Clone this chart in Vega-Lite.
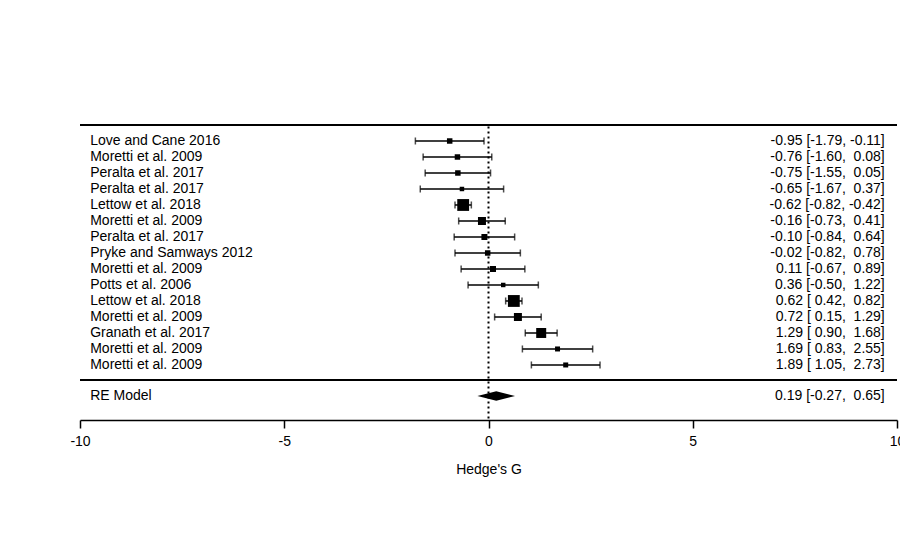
{
  "$schema": "https://vega.github.io/schema/vega-lite/v6.json",
  "autosize": "none",
  "width": 817,
  "height": 295,
  "padding": {"left": 80, "top": 125, "right": 3, "bottom": 116},
  "background": "white",
  "config": {"view": {"stroke": null}, "font": "Liberation Sans"},
  "datasets": {
    "studies": [
      {"k": 1, "study": "Love and Cane 2016", "est": -0.95, "lo": -1.79, "hi": -0.11, "w": 30, "ci": "-0.95 [-1.79, -0.11]"},
      {"k": 2, "study": "Moretti et al. 2009", "est": -0.76, "lo": -1.60, "hi": 0.08, "w": 30, "ci": "-0.76 [-1.60, \u00a00.08]"},
      {"k": 3, "study": "Peralta et al. 2017", "est": -0.75, "lo": -1.55, "hi": 0.05, "w": 30, "ci": "-0.75 [-1.55, \u00a00.05]"},
      {"k": 4, "study": "Peralta et al. 2017", "est": -0.65, "lo": -1.67, "hi": 0.37, "w": 20, "ci": "-0.65 [-1.67, \u00a00.37]"},
      {"k": 5, "study": "Lettow et al. 2018", "est": -0.62, "lo": -0.82, "hi": -0.42, "w": 140, "ci": "-0.62 [-0.82, -0.42]"},
      {"k": 6, "study": "Moretti et al. 2009", "est": -0.16, "lo": -0.73, "hi": 0.41, "w": 64, "ci": "-0.16 [-0.73, \u00a00.41]"},
      {"k": 7, "study": "Peralta et al. 2017", "est": -0.10, "lo": -0.84, "hi": 0.64, "w": 36, "ci": "-0.10 [-0.84, \u00a00.64]"},
      {"k": 8, "study": "Pryke and Samways 2012", "est": -0.02, "lo": -0.82, "hi": 0.78, "w": 30, "ci": "-0.02 [-0.82, \u00a00.78]"},
      {"k": 9, "study": "Moretti et al. 2009", "est": 0.11, "lo": -0.67, "hi": 0.89, "w": 36, "ci": "0.11 [-0.67, \u00a00.89]"},
      {"k": 10, "study": "Potts et al. 2006", "est": 0.36, "lo": -0.50, "hi": 1.22, "w": 20, "ci": "0.36 [-0.50, \u00a01.22]"},
      {"k": 11, "study": "Lettow et al. 2018", "est": 0.62, "lo": 0.42, "hi": 0.82, "w": 140, "ci": "0.62 [\u00a00.42, \u00a00.82]"},
      {"k": 12, "study": "Moretti et al. 2009", "est": 0.72, "lo": 0.15, "hi": 1.29, "w": 64, "ci": "0.72 [\u00a00.15, \u00a01.29]"},
      {"k": 13, "study": "Granath et al. 2017", "est": 1.29, "lo": 0.90, "hi": 1.68, "w": 100, "ci": "1.29 [\u00a00.90, \u00a01.68]"},
      {"k": 14, "study": "Moretti et al. 2009", "est": 1.69, "lo": 0.83, "hi": 2.55, "w": 25, "ci": "1.69 [\u00a00.83, \u00a02.55]"},
      {"k": 15, "study": "Moretti et al. 2009", "est": 1.89, "lo": 1.05, "hi": 2.73, "w": 25, "ci": "1.89 [\u00a01.05, \u00a02.73]"}
    ],
    "model": [
      {"k": 16.94, "study": "RE Model", "est": 0.19, "lo": -0.27, "hi": 0.65, "ci": "0.19 [-0.27, \u00a00.65]"}
    ]
  },
  "layer": [
    {
      "data": {"values": [{"y": 0}, {"y": 15.94}]},
      "mark": {"type": "rule", "color": "black", "strokeWidth": 2},
      "encoding": {"y": {"field": "y", "type": "quantitative", "scale": {"domain": [0, 18.44], "reverse": true, "nice": false, "zero": false}, "axis": null}}
    },
    {
      "data": {"values": [{"a": 0.1, "b": 18.44}]},
      "mark": {"type": "rule", "color": "black", "strokeWidth": 2, "strokeDash": [2, 3]},
      "encoding": {
        "x": {"datum": 0, "type": "quantitative"},
        "y": {"field": "a", "type": "quantitative"},
        "y2": {"field": "b"}
      }
    },
    {
      "data": {"name": "studies"},
      "layer": [
        {"mark": {"type": "rule", "color": "black", "strokeWidth": 1.5}, "encoding": {"x": {"field": "lo", "type": "quantitative"}, "x2": {"field": "hi"}}},
        {"mark": {"type": "tick", "orient": "vertical", "size": 7, "thickness": 1.5, "color": "black"}, "encoding": {"x": {"field": "lo", "type": "quantitative"}}},
        {"mark": {"type": "tick", "orient": "vertical", "size": 7, "thickness": 1.5, "color": "black"}, "encoding": {"x": {"field": "hi", "type": "quantitative"}}},
        {
          "mark": {"type": "point", "shape": "square", "filled": true, "color": "black", "opacity": 1},
          "encoding": {
            "x": {"field": "est", "type": "quantitative"},
            "size": {"field": "w", "type": "quantitative", "scale": {"domain": [0, 150], "range": [0, 150]}, "legend": null}
          }
        },
        {"mark": {"type": "text", "align": "left", "fontSize": 14}, "encoding": {"x": {"datum": -9.75, "type": "quantitative"}, "text": {"field": "study"}}},
        {"mark": {"type": "text", "align": "right", "fontSize": 14}, "encoding": {"x": {"datum": 9.7, "type": "quantitative"}, "text": {"field": "ci"}}}
      ],
      "encoding": {"y": {"field": "k", "type": "quantitative"}}
    },
    {
      "data": {"name": "model"},
      "layer": [
        {"mark": {"type": "point", "shape": "M-1,0L0,-0.25L1,0L0,0.25Z", "filled": true, "color": "black", "opacity": 1, "size": 1414}, "encoding": {"x": {"field": "est", "type": "quantitative"}}},
        {"mark": {"type": "text", "align": "left", "fontSize": 14}, "encoding": {"x": {"datum": -9.75, "type": "quantitative"}, "text": {"field": "study"}}},
        {"mark": {"type": "text", "align": "right", "fontSize": 14}, "encoding": {"x": {"datum": 9.7, "type": "quantitative"}, "text": {"field": "ci"}}}
      ],
      "encoding": {"y": {"field": "k", "type": "quantitative"}}
    }
  ],
  "resolve": {"scale": {"x": "shared", "y": "shared"}},
  "encoding": {
    "x": {
      "type": "quantitative",
      "scale": {"domain": [-10, 10], "nice": false, "zero": false},
      "axis": {"values": [-10, -5, 0, 5, 10], "labelExpr": "'' + datum.value", "title": "Hedge's G", "titleFontWeight": "normal", "titleFontSize": 14, "titlePadding": 14, "labelFontSize": 14, "labelPadding": 6, "tickSize": 8, "tickColor": "black", "domainColor": "black", "labelColor": "black", "titleColor": "black", "grid": false, "domainWidth": 1.5, "tickWidth": 1.5, "labelFlush": false}
    }
  }
}
